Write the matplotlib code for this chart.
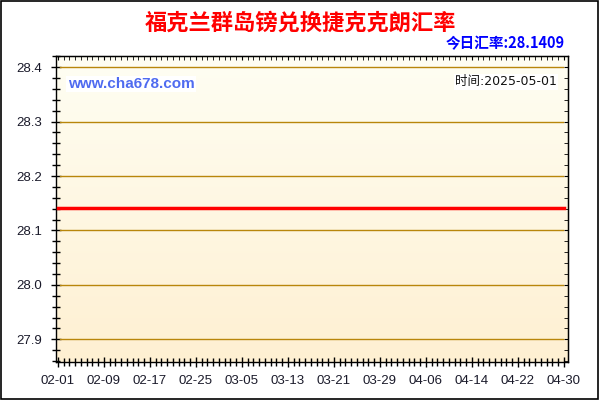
import numpy as np
import pandas as pd
import matplotlib
matplotlib.use('Agg')
import matplotlib.pyplot as plt
import matplotlib.dates as mdates
from matplotlib.patches import Rectangle

plt.rcParams['font.family'] = ['Liberation Sans', 'Noto Sans CJK SC', 'DejaVu Sans']

# data: daily rate, flat over the period
dates = pd.date_range('2025-02-01', '2025-04-30', freq='D')
rates = [28.1409] * len(dates)

title = '福克兰群岛镑兑换捷克克朗汇率'
today_label = '今日汇率:28.1409'
site_label = 'www.cha678.com'
time_label = '时间:2025-05-01'
y_ticks = [27.9, 28.0, 28.1, 28.2, 28.3, 28.4]

fig = plt.figure(figsize=(6, 4), dpi=100)
fig.patch.set_facecolor('white')
fig.patches.append(Rectangle((0.002, 0.003), 0.995, 0.994, transform=fig.transFigure,
                             fill=False, edgecolor='black', linewidth=1.2))

ax = fig.add_axes([0.0928, 0.0958, 0.8539, 0.7650])

# background gradient
grad = np.linspace(0, 1, 256).reshape(-1, 1)
top_c = np.array([255, 254, 243]) / 255
bot_c = np.array([254, 240, 210]) / 255
img = top_c + (bot_c - top_c) * grad
ax.imshow(img[:, None, :].repeat(2, axis=1), extent=[0, 1, 0, 1], transform=ax.transAxes,
          aspect='auto', zorder=0, interpolation='bilinear')

ax.plot(dates, rates, color='red', linewidth=2.5, zorder=3)

x0 = mdates.date2num(pd.Timestamp('2025-02-01')) - 0.4
x1 = mdates.date2num(pd.Timestamp('2025-04-30')) + 0.7
ax.set_xlim(x0, x1)
ax.set_ylim(27.859, 28.421)

# horizontal grid lines
for v in y_ticks:
    ax.plot([mdates.date2num(dates[0]) + 0.4, mdates.date2num(dates[-1]) - 0.2], [v, v],
            color='#B8860B', linewidth=1, zorder=2)

major_dates = pd.date_range('2025-02-01', '2025-04-30', freq='8D')
ax.set_xticks(mdates.date2num(major_dates))
ax.set_xticklabels([d.strftime('%m-%d') for d in major_dates])
ax.xaxis.set_minor_locator(mdates.DayLocator())
ax.set_yticks(y_ticks)
ax.set_yticklabels([f'{v:.1f}' for v in y_ticks])
ax.yaxis.set_minor_locator(plt.MultipleLocator(0.02))

ax.tick_params(axis='both', which='major', direction='inout', length=7, width=1,
               labelsize=9.5, labelcolor='#1a1a2a')
ax.tick_params(axis='both', which='minor', direction='inout', length=6, width=1)
ax.tick_params(axis='x', pad=6)
ax.tick_params(axis='y', pad=6)

# inward ticks on top and right
top = ax.secondary_xaxis('top')
top.set_xticks(mdates.date2num(major_dates))
top.xaxis.set_minor_locator(mdates.DayLocator())
top.tick_params(which='both', direction='in', length=3, labeltop=False)
right = ax.secondary_yaxis('right')
right.set_yticks(y_ticks)
right.yaxis.set_minor_locator(plt.MultipleLocator(0.02))
right.tick_params(which='both', direction='in', length=3, labelright=False)

for s in ax.spines.values():
    s.set_linewidth(1)

fig.text(0.5, 0.942, title, ha='center', va='center', fontsize=16, fontweight='bold',
         color='red', family=['Noto Sans CJK SC', 'DejaVu Sans'])
fig.text(0.942, 0.893, today_label, ha='right', va='center', fontsize=10.5,
         fontweight='bold', color='#0000FF', family=['Noto Sans CJK SC', 'DejaVu Sans'])
fig.text(0.113, 0.790, site_label, ha='left', va='center', fontsize=11, fontweight='bold',
         color='#4F6BF0', bbox=dict(facecolor='white', edgecolor='none', pad=1))
fig.text(0.928, 0.795, time_label, ha='right', va='center', fontsize=9,
         color='#111111', family=['DejaVu Sans', 'Noto Sans CJK SC'],
         bbox=dict(facecolor='white', edgecolor='none', pad=1))

fig.savefig('out.png', dpi=100)
